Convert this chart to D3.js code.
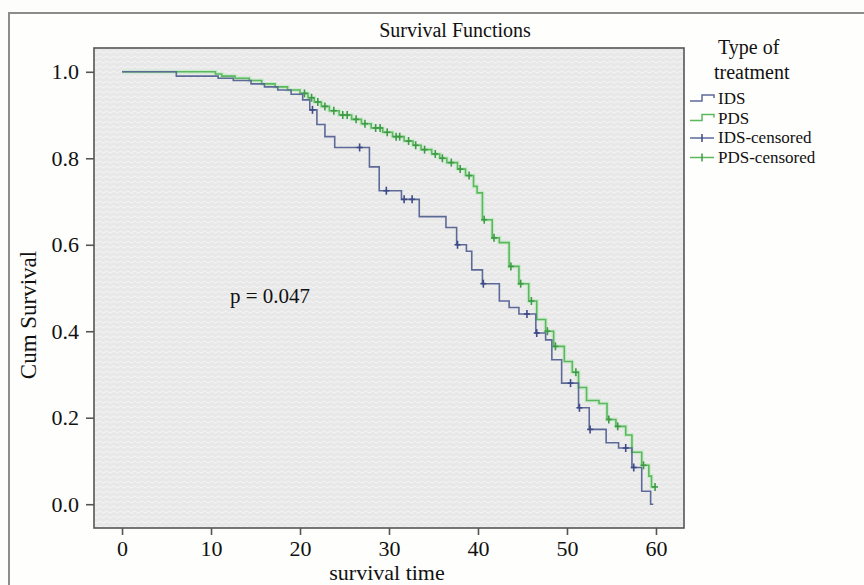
<!DOCTYPE html>
<html>
<head>
<meta charset="utf-8">
<script src="https://cdn.jsdelivr.net/npm/d3@7"></script>
<style>
  body { margin: 0; background: #fdfdfb; }
</style>
</head>
<body>
<script>
// Kaplan-Meier steps (time in months, cum survival)
const idsTimes = [6.1, 10.8, 12.5, 14.5, 16.0, 17.5, 19.0, 20.3, 21.1, 21.9, 22.8, 23.9, 27.8, 28.9, 31.4, 33.4, 36.4, 37.6, 38.7, 39.3, 40.5, 42.4, 43.5, 44.6, 46.5, 47.6, 48.3, 49.4, 51.3, 52.5, 54.4, 55.8, 57.3, 58.4, 59.4];
const idsSurv  = [0.99, 0.985, 0.98, 0.972, 0.965, 0.958, 0.948, 0.935, 0.912, 0.878, 0.85, 0.825, 0.78, 0.725, 0.705, 0.665, 0.64, 0.60, 0.585, 0.542, 0.51, 0.47, 0.455, 0.44, 0.396, 0.38, 0.334, 0.28, 0.223, 0.173, 0.142, 0.13, 0.085, 0.03, 0.0];
const idsCensored = [21.4, 26.7, 29.7, 31.7, 32.6, 37.7, 40.6, 45.5, 46.6, 50.4, 51.4, 52.6, 56.6, 57.5];
const idsEnd = 59.7;

const pdsTimes = [10.5, 11.2, 12.7, 14.3, 15.7, 17.2, 18.6, 20.0, 20.9, 21.6, 22.4, 23.3, 24.4, 25.8, 26.9, 28.0, 29.3, 30.4, 31.7, 32.7, 33.6, 34.8, 35.7, 36.5, 37.7, 38.6, 39.5, 39.9, 40.5, 41.6, 42.4, 43.5, 44.6, 45.7, 46.6, 47.6, 48.5, 49.7, 50.6, 51.3, 52.2, 53.6, 54.5, 55.5, 56.6, 57.3, 58.4, 59.2, 59.5];
const pdsSurv  = [0.995, 0.99, 0.985, 0.98, 0.972, 0.965, 0.958, 0.95, 0.94, 0.93, 0.92, 0.91, 0.90, 0.89, 0.88, 0.87, 0.86, 0.85, 0.84, 0.83, 0.82, 0.81, 0.80, 0.79, 0.775, 0.76, 0.735, 0.72, 0.658, 0.616, 0.605, 0.55, 0.51, 0.47, 0.427, 0.40, 0.365, 0.33, 0.305, 0.27, 0.24, 0.233, 0.196, 0.18, 0.16, 0.12, 0.09, 0.065, 0.04];
const pdsCensored = [20.5, 21.3, 22.0, 22.8, 23.8, 24.8, 25.3, 26.3, 27.3, 28.5, 29.0, 29.8, 30.8, 31.2, 32.2, 33.0, 34.0, 35.2, 36.0, 37.0, 38.0, 39.0, 40.7, 41.8, 43.7, 44.8, 46.0, 47.8, 48.7, 51.0, 54.7, 55.7, 58.6, 59.9];
const pdsEnd = 60.0;

const xTicks = [0, 10, 20, 30, 40, 50, 60];
const yTicks = [0.0, 0.2, 0.4, 0.6, 0.8, 1.0];
const legendLabels = ['IDS', 'PDS', 'IDS-censored', 'PDS-censored'];

const width = 864, height = 585;
const plot = {left: 94, right: 684, top: 48, bottom: 528};
const serif = '"Liberation Serif", "DejaVu Serif", serif';
const idsColor = '#5d6a98', idsMark = '#3d4a85';
const pdsColor = '#5cb85e', pdsMark = '#3f9a48';

const x = d3.scaleLinear().domain([-3.15, 63.15]).range([plot.left, plot.right]);
const y = d3.scaleLinear().domain([-0.055, 1.055]).range([plot.bottom, plot.top]);

const svg = d3.select('body').append('svg')
  .attr('width', width).attr('height', height)
  .attr('font-family', serif);

// paper texture for the plot background
const defs = svg.append('defs');
const pat = defs.append('pattern').attr('id', 'tex')
  .attr('width', 7).attr('height', 5).attr('patternUnits', 'userSpaceOnUse');
pat.append('rect').attr('width', 7).attr('height', 5).attr('fill', '#e8e8e8');
pat.append('path').attr('d', 'M0,2 q1.75,-2 3.5,0 t3.5,0')
  .attr('fill', 'none').attr('stroke', '#f6f6f6').attr('stroke-width', 1);

// outer frame
svg.append('rect').attr('x', 9).attr('y', 13).attr('width', 870).attr('height', 600)
  .attr('fill', '#fefefc').attr('stroke', '#8c8c8c').attr('stroke-width', 2);

svg.append('rect')
  .attr('x', plot.left).attr('y', plot.top)
  .attr('width', plot.right - plot.left).attr('height', plot.bottom - plot.top)
  .attr('fill', 'url(#tex)').attr('stroke', '#555').attr('stroke-width', 1.6);

// axes
const yAxis = d3.axisLeft(y).tickValues(yTicks).tickFormat(d3.format('.1f')).tickSize(8).tickPadding(7);
const gy = svg.append('g').attr('transform', `translate(${plot.left},0)`).call(yAxis);
const xAxis = d3.axisBottom(x).tickValues(xTicks).tickSize(7).tickPadding(5);
const gx = svg.append('g').attr('transform', `translate(0,${plot.bottom})`).call(xAxis);
[gx, gy].forEach(g => {
  g.select('.domain').remove();
  g.selectAll('line').attr('stroke', '#555').attr('stroke-width', 1.6);
  g.selectAll('text').attr('font-size', 22).attr('fill', '#111')
    .attr('font-family', serif);
});

// step curves
function stepPoints(times, surv, end) {
  const pts = [[0, 1]];
  times.forEach((t, i) => pts.push([t, surv[i]]));
  pts.push([end, surv[surv.length - 1]]);
  return pts;
}
function survAt(times, surv, t) {
  const i = d3.bisectRight(times, t);
  return i === 0 ? 1 : surv[i - 1];
}
const line = d3.line().x(d => x(d[0])).y(d => y(d[1])).curve(d3.curveStepAfter);

const groups = [
  {times: pdsTimes, surv: pdsSurv, cens: pdsCensored, end: pdsEnd, color: pdsColor, mark: pdsMark},
  {times: idsTimes, surv: idsSurv, cens: idsCensored, end: idsEnd, color: idsColor, mark: idsMark}
];

groups.forEach(g => {
  const pts = stepPoints(g.times, g.surv, g.end);
  if (g.color === pdsColor) {
    svg.append('path').datum(pts).attr('d', line)
      .attr('fill', 'none').attr('stroke', '#bfeac0').attr('stroke-width', 4).attr('opacity', 0.7);
  }
  svg.append('path').datum(pts).attr('d', line)
    .attr('fill', 'none').attr('stroke', g.color).attr('stroke-width', 1.6);
  const marks = svg.append('g').selectAll('g').data(g.cens).join('g')
    .attr('transform', d => `translate(${x(d)},${y(survAt(g.times, g.surv, d))})`);
  marks.append('line').attr('y1', -4).attr('y2', 4).attr('stroke', g.mark).attr('stroke-width', 1.6);
  marks.append('line').attr('x1', -3).attr('x2', 3).attr('stroke', g.mark).attr('stroke-width', 1.6);
});

// texts
svg.append('text').attr('x', 455).attr('y', 37).attr('text-anchor', 'middle')
  .attr('font-size', 20).attr('fill', '#111').text('Survival Functions');
svg.append('text').attr('x', (plot.left + plot.right) / 2 - 2).attr('y', 580).attr('text-anchor', 'middle')
  .attr('font-size', 22).attr('fill', '#111').text('survival time');
svg.append('text').attr('transform', 'translate(36,315) rotate(-90)').attr('text-anchor', 'middle')
  .attr('font-size', 23).attr('fill', '#111').text('Cum Survival');
svg.append('text').attr('x', 230).attr('y', 303).attr('font-size', 21).attr('fill', '#111').text('p = 0.047');

// legend
svg.append('text').attr('x', 718).attr('y', 54).attr('font-size', 20).attr('fill', '#111').text('Type of');
svg.append('text').attr('x', 714).attr('y', 79).attr('font-size', 20).attr('fill', '#111').text('treatment');
const leg = svg.append('g').selectAll('g').data(legendLabels).join('g')
  .attr('transform', (d, i) => `translate(690,${99 + i * 19.5})`);
leg.append('text').attr('x', 28).attr('y', 5).attr('font-size', 17).attr('fill', '#111').text(d => d);
leg.each(function(d, i) {
  const g = d3.select(this);
  const col = i % 2 === 0 ? idsColor : pdsColor;
  const mk = i % 2 === 0 ? idsMark : pdsMark;
  if (i < 2) {
    g.append('path').attr('d', 'M0,2 H12 V-4 H24 V-1').attr('fill', 'none')
      .attr('stroke', col).attr('stroke-width', 1.5);
  } else {
    g.append('line').attr('x1', 0).attr('x2', 24).attr('y1', 0).attr('y2', 0)
      .attr('stroke', col).attr('stroke-width', 1.5);
    g.append('line').attr('x1', 12).attr('x2', 12).attr('y1', -4).attr('y2', 4)
      .attr('stroke', mk).attr('stroke-width', 1.5);
  }
});
</script>
</body>
</html>
